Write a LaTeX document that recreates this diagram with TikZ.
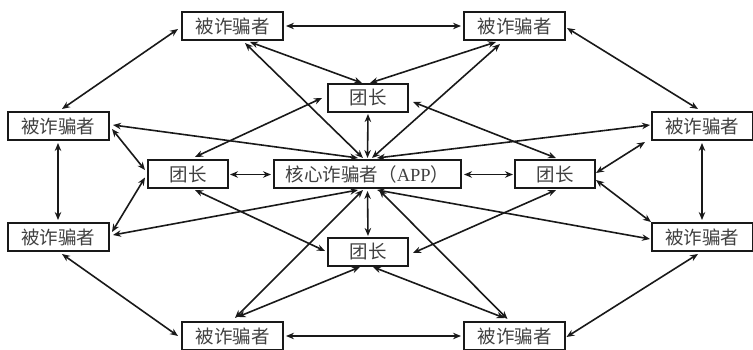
\documentclass[tikz,border=0pt]{standalone}
\usepackage{fontspec}
\setmainfont{Liberation Serif}
\newfontfamily\cjk{Noto Sans CJK SC}
\usetikzlibrary{arrows.meta,calc}
\begin{document}
\begin{tikzpicture}[x=1pt,y=-1pt,
  box/.style={draw=black!90,line width=2pt,inner sep=0pt,minimum height=28pt,
    font=\fontsize{18.5}{21}\selectfont\cjk,text=black!75},
  victim/.style={box,minimum width=101pt},
  leader/.style={box,minimum width=80pt},
  core/.style={box,minimum width=187pt},
  link/.style={line width=1.6pt,draw=black!90,{Stealth[length=8pt,width=6.5pt]}-{Stealth[length=8pt,width=6.5pt]}}]
\useasboundingbox (0,0) rectangle (753,350);
% nodes
\node[victim] (TL) at (232.5,26) {被诈骗者};
\node[victim] (TR) at (514.5,26) {被诈骗者};
\node[victim] (L1) at (58,126) {被诈骗者};
\node[victim] (L2) at (58,237) {被诈骗者};
\node[victim] (R1) at (702,126) {被诈骗者};
\node[victim] (R2) at (702,237) {被诈骗者};
\node[victim] (BL) at (232.5,336) {被诈骗者};
\node[victim] (BR) at (514.5,336) {被诈骗者};
\node[leader] (TLd) at (368,98) {团长};
\node[leader] (LLd) at (188,174.5) {团长};
\node[leader] (RLd) at (555,174.5) {团长};
\node[leader] (BLd) at (368,252) {团长};
\node[core] (core) at (367.5,174.5) {核心诈骗者（{\fontspec{Liberation Serif}APP}）};
% outer ring
\draw[link] ($(TL)+(53.5,0)$) -- ($(TR)+(-53.5,0)$);
\draw[link] ($(BL)+(53.5,0)$) -- ($(BR)+(-53.5,0)$);
\draw[link] ($(TL)+(-54.5,3)$) -- ($(L1)+(4,-17)$);
\draw[link] ($(TR)+(52.5,2)$) -- ($(R1)+(-4,-17)$);
\draw[link] ($(L2)+(4,17)$) -- ($(BL)+(-54.5,0)$);
\draw[link] ($(R2)+(-4,17)$) -- ($(BR)+(52,1)$);
\draw[link] ($(L1)+(0,17)$) -- ($(L2)+(0,-17)$);
\draw[link] ($(R1)+(0,17)$) -- ($(R2)+(0,-17)$);
% top victims
\draw[link] ($(TL)+(17.5,16)$) -- ($(TLd)+(-6,-15)$);
\draw[link] ($(TL)+(12.5,17)$) -- ($(core)+(-4.5,-16.5)$);
\draw[link] ($(TR)+(-18.5,16)$) -- ($(TLd)+(2,-15)$);
\draw[link] ($(TR)+(-14.5,18)$) -- ($(core)+(4.5,-16.5)$);
% leaders
\draw[link] ($(TLd)+(0,16)$) -- ($(core)+(0,-16.5)$);
\draw[link] ($(TLd)+(45,4)$) -- ($(RLd)+(1,-16.5)$);
\draw[link] ($(TLd)+(-46,0)$) -- ($(LLd)+(7,-17.5)$);
\draw[link] ($(LLd)+(42,0)$) -- ($(core)+(-96.5,0)$);
\draw[link] ($(core)+(96.5,0)$) -- ($(RLd)+(-42,0)$);
\draw[link] ($(LLd)+(7,15.5)$) -- ($(BLd)+(-43,-1)$);
\draw[link] ($(RLd)+(1,15.5)$) -- ($(BLd)+(45,1)$);
\draw[link] ($(core)+(0,16.5)$) -- ($(BLd)+(0,-16)$);
% side victims
\draw[link] ($(L1)+(55,-1)$) -- ($(core)+(-9.5,-16.5)$);
\draw[link] ($(L1)+(54,3)$) -- ($(LLd)+(-43,-4.5)$);
\draw[link] ($(R1)+(-52,-1)$) -- ($(core)+(9.5,-16.5)$);
\draw[link] ($(R1)+(-57,16)$) -- ($(RLd)+(41,-1.5)$);
\draw[link] ($(L2)+(55,-2)$) -- ($(core)+(-9.5,15.5)$);
\draw[link] ($(L2)+(54,-5)$) -- ($(LLd)+(-43,3)$);
\draw[link] ($(R2)+(-52,2)$) -- ($(core)+(9.5,15.5)$);
\draw[link] ($(R2)+(-51,-15)$) -- ($(RLd)+(41,5.5)$);
% bottom victims
\draw[link] ($(BL)+(2.5,-18)$) -- ($(core)+(-4.5,15.5)$);
\draw[link] ($(BL)+(5,-19)$) -- ($(BLd)+(-8,15)$);
\draw[link] ($(BR)+(-7,-17)$) -- ($(core)+(11.5,15.5)$);
\draw[link] ($(BR)+(-10,-18)$) -- ($(BLd)+(5,15)$);
\end{tikzpicture}
\end{document}
